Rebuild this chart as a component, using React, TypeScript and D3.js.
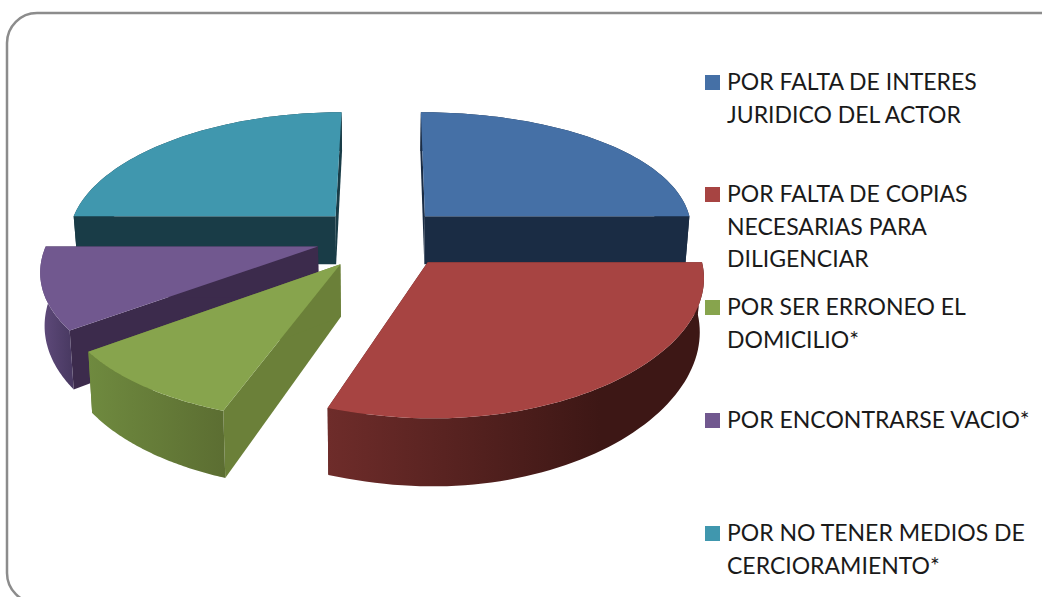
import React from "react";
import * as d3 from "d3";

const categories = [
  "POR FALTA DE INTERES JURIDICO DEL ACTOR",
  "POR FALTA DE COPIAS NECESARIAS PARA DILIGENCIAR",
  "POR SER ERRONEO EL DOMICILIO*",
  "POR ENCONTRARSE VACIO*",
  "POR NO TENER MEDIOS DE CERCIORAMIENTO*",
];
const values = [25, 30.4, 9.4, 10.2, 25];
const topColors = ["#4570a6", "#a74442", "#87a44d", "#71588f", "#4097ae"];
const radialColors = ["#1a2c44", "#5a2220", "#6b8039", "#3c2b4c", "#193c47"];
const arcColorsFrom = ["#1a2c44", "#6e2c2a", "#6f8a3f", "#604b7c", "#193c47"];
const arcColorsTo = ["#1a2c44", "#3d1715", "#5c6e32", "#4a3a63", "#193c47"];
const legendLines = [
  ["POR FALTA DE INTERES", "JURIDICO DEL ACTOR"],
  ["POR FALTA DE COPIAS", "NECESARIAS PARA", "DILIGENCIAR"],
  ["POR SER ERRONEO EL", "DOMICILIO*"],
  ["POR ENCONTRARSE VACIO*"],
  ["POR NO TENER MEDIOS DE", "CERCIORAMIENTO*"],
];
const legendY = [82, 194, 307, 420, 533];

const W = 1042, H = 597;
const cx = 380, cy = 237, F = 269, A = 125, P = 0.147, PX_RIGHT = 0.1, PX_LEFT = 0.16, EXPLODE = 0.24, DEPTH = 48;
const redShift = 0.035, greenDrop = 0.018;

type Pt = [number, number];
const project = (X: number, Y: number): Pt => {
  const s = 1 / (1 - P * Y);
  const sx = 1 / (1 - (X < 0 ? PX_LEFT : PX_RIGHT) * Y);
  return [cx + X * F * sx, cy + Y * A * s];
};
const drop = (X: number, Y: number): Pt => {
  const s = 1 / (1 - P * Y);
  const [x, y] = project(X, Y);
  return [cx + (x - cx) * 0.987, y + (DEPTH / 0.976 ** 1.6) * s ** 1.6];
};

const pie = d3.pie<number>().sort(null)(values);
const line = d3.line<Pt>();

export default function App() {
  const slices = pie.map((a, i) => {
    const mid = (a.startAngle + a.endAngle) / 2;
    const ox = Math.sin(mid) * EXPLODE + (i === 1 ? redShift : 0);
    const oy = -Math.cos(mid) * EXPLODE + (i === 2 ? greenDrop : 0);
    const n = 64;
    const angles = d3.range(n + 1).map((k) => a.startAngle + ((a.endAngle - a.startAngle) * k) / n);
    const rim = angles.map((t) => [ox + Math.sin(t), oy - Math.cos(t)] as Pt);
    const topPts = rim.map(([X, Y]) => project(X, Y));
    const botPts = rim.map(([X, Y]) => drop(X, Y));
    const apexT = project(ox, oy), apexB = drop(ox, oy);
    return { i, topPts, botPts, apexT, apexB };
  });
  const order = [4, 0, 3, 2, 1];
  return (
    <svg width={W} height={H} style={{ position: "absolute", left: 0, top: 0, background: "#fff" }}>
      <defs>
        {slices.map((s) => {
          const xs = s.topPts.map((p) => p[0]);
          return (
            <linearGradient key={s.i} id={`wall${s.i}`} gradientUnits="userSpaceOnUse"
              x1={d3.min(xs)} x2={s.i === 1 ? 600 : d3.max(xs)} y1={0} y2={0}>
              <stop offset="0" stopColor={arcColorsFrom[s.i]} />
              <stop offset="1" stopColor={arcColorsTo[s.i]} />
            </linearGradient>
          );
        })}
      </defs>
      <rect x={7} y={13} width={1070} height={590} rx={30} ry={30} fill="#fff" stroke="#8c8c8c" strokeWidth={2.5} />
      {order.map((idx) => {
        const s = slices[idx];
        const first = s.topPts[0], last = s.topPts[s.topPts.length - 1];
        const bFirst = s.botPts[0], bLast = s.botPts[s.botPts.length - 1];
        return (
          <g key={idx}>
            <path d={line([s.apexT, first, bFirst, s.apexB])! + "Z"} fill={radialColors[idx]} />
            <path d={line([s.apexT, last, bLast, s.apexB])! + "Z"} fill={radialColors[idx]} />
            <path d={line([...s.topPts, ...[...s.botPts].reverse()])! + "Z"} fill={`url(#wall${idx})`} />
            <path d={line([s.apexT, ...s.topPts])! + "Z"} fill={topColors[idx]} />
          </g>
        );
      })}
      {categories.map((c, i) => (
        <g key={c}>
          <rect x={705} y={legendY[i] - 7} width={15} height={15} fill={topColors[i]} />
          <text fontFamily="Lato" fontSize={23} fill="#1a1a1a">
            {legendLines[i].map((l, k) => (
              <tspan key={k} x={727} y={legendY[i] + 8 + k * 32.7}>{l}</tspan>
            ))}
          </text>
        </g>
      ))}
    </svg>
  );
}
